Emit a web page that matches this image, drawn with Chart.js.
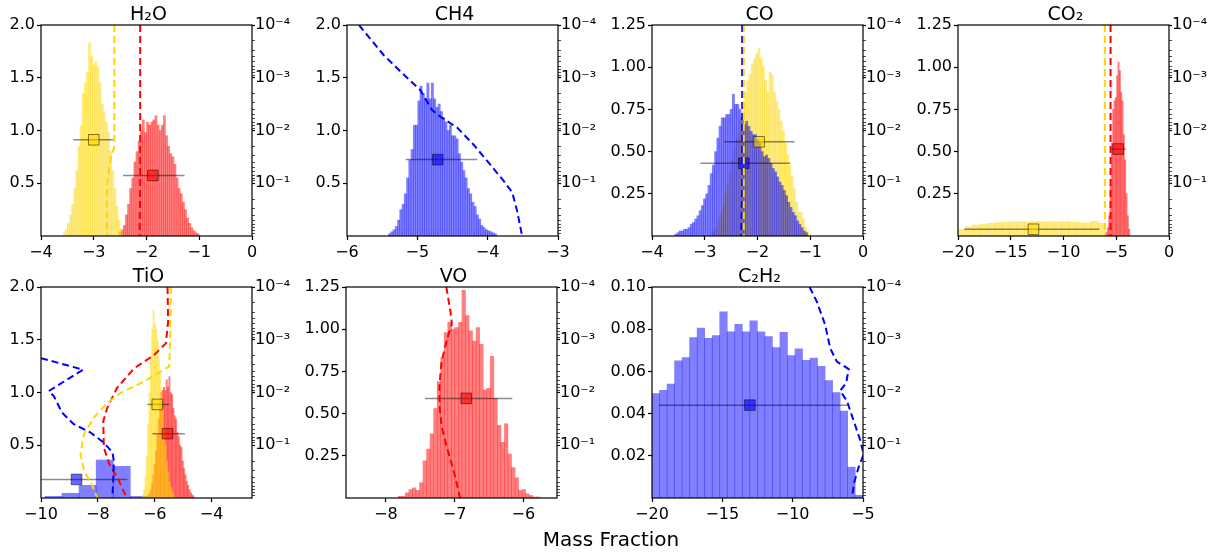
<!DOCTYPE html>
<html>
<head>
<meta charset="utf-8">
<script src="https://cdn.jsdelivr.net/npm/chart.js@4.4.1/dist/chart.umd.min.js"></script>
<style>
  body { margin: 0; background: #fff; width: 1226px; height: 552px; position: relative; overflow: hidden; font-family: "DejaVu Sans"; }
  canvas { position: absolute; }
  #xlabel { position: absolute; left: 0; width: 1222px; top: 529px; text-align: center; font-size: 20px; line-height: 1; color: #000; }
</style>
</head>
<body>
<canvas id="c0" width="303" height="269" style="left:-3px;top:-1px"></canvas>
<canvas id="c1" width="303" height="269" style="left:303px;top:-1px"></canvas>
<canvas id="c2" width="303" height="269" style="left:608px;top:-1px"></canvas>
<canvas id="c3" width="303" height="269" style="left:914px;top:-1px"></canvas>
<canvas id="c4" width="303" height="269" style="left:-3px;top:261px"></canvas>
<canvas id="c5" width="303" height="269" style="left:302px;top:261px"></canvas>
<canvas id="c6" width="303" height="269" style="left:608px;top:261px"></canvas>
<div id="xlabel">Mass Fraction</div>
<script>
// right axis (pressure), major ticks
const pressureTicks = [1e-4, 1e-3, 1e-2, 1e-1];

// fits are [median, low, high, marker level]

// H2O
const h2oXTicks = [-4, -3, -2, -1, 0];
const h2oYTicks = [0.5, 1.0, 1.5, 2.0];
const h2oYellowStart = -3.58, h2oYellowWidth = 0.04;
const h2oYellowHeights = [0.03,0.06,0.12,0.20,0.30,0.45,0.62,0.85,1.05,1.35,1.45,1.55,1.83,1.70,1.62,1.65,1.60,1.45,1.25,1.18,1.08,0.98,0.80,0.62,0.45,0.28,0.15,0.06];
const h2oRedStart = -2.52, h2oRedWidth = 0.04;
const h2oRedHeights = [0.04,0.06,0.10,0.20,0.30,0.45,0.55,0.70,0.80,0.90,1.00,1.10,0.98,1.08,1.05,1.08,1.10,1.14,1.05,1.00,1.05,1.14,0.95,0.85,0.78,0.75,0.68,0.55,0.45,0.40,0.32,0.25,0.17,0.12,0.08,0.05,0.03,0.02];
const h2oYellowProfileX = [-2.61, -2.61, -2.69, -2.74, -2.75, -2.75];
const h2oYellowProfileP = [1e-4, 2e-2, 3.8e-2, 9.1e-2, 0.22, 1.0];
const h2oRedProfileX = [-2.12, -2.12, -2.13];
const h2oRedProfileP = [1e-4, 1e-1, 1.0];
const h2oYellowFit = [-3.0, -3.39, -2.635, 0.912];
const h2oRedFit = [-1.88, -2.445, -1.277, 0.574];

// CH4
const ch4XTicks = [-6, -5, -4, -3];
const ch4YTicks = [0.5, 1.0, 1.5, 2.0];
const ch4BlueStart = -5.41, ch4BlueWidth = 0.032;
const ch4BlueHeights = [0.02,0.04,0.06,0.09,0.15,0.25,0.30,0.40,0.55,0.72,0.82,1.05,1.05,1.28,1.42,1.35,1.30,1.45,1.30,1.45,1.30,1.22,1.25,1.18,1.12,1.08,1.00,1.05,0.95,0.95,0.92,0.78,0.70,0.62,0.55,0.45,0.40,0.32,0.28,0.20,0.16,0.10,0.08,0.06,0.05,0.04,0.03,0.02];
const ch4BlueProfileX = [-5.83, -5.48, -5.24, -4.96, -4.79, -4.67, -4.43, -4.20, -3.96, -3.77, -3.65, -3.58, -3.51];
const ch4BlueProfileP = [1e-4, 3.7e-4, 7.6e-4, 1.7e-3, 4.1e-3, 5.5e-3, 8.9e-3, 1.86e-2, 4.5e-2, 9.1e-2, 0.15, 0.34, 1.0];
const ch4BlueFit = [-4.71, -5.165, -4.15, 0.724];

// CO
const coXTicks = [-4, -3, -2, -1, 0];
const coYTicks = [0.25, 0.5, 0.75, 1.0, 1.25];
const coYellowStart = -2.875, coYellowWidth = 0.042;
const coYellowHeights = [0.02,0.04,0.06,0.10,0.14,0.18,0.25,0.30,0.38,0.45,0.52,0.58,0.62,0.70,0.80,0.85,0.92,0.96,1.02,1.05,1.08,1.11,1.05,1.00,0.92,0.85,0.97,0.95,0.85,0.80,0.75,0.68,0.62,0.55,0.48,0.42,0.35,0.28,0.20,0.14,0.14,0.10,0.05,0.03,0.01];
const coBlueStart = -3.57, coBlueWidth = 0.042;
const coBlueHeights = [0.01,0.02,0.03,0.03,0.04,0.04,0.05,0.07,0.08,0.10,0.12,0.15,0.18,0.22,0.25,0.30,0.37,0.42,0.50,0.58,0.65,0.70,0.70,0.72,0.72,0.75,0.84,0.78,0.78,0.75,0.70,0.66,0.68,0.65,0.62,0.60,0.60,0.57,0.55,0.50,0.47,0.48,0.46,0.43,0.40,0.38,0.35,0.32,0.30,0.27,0.24,0.20,0.17,0.14,0.12,0.09,0.07,0.05,0.03,0.02];
const coYellowProfileX = [-2.26, -2.26];
const coYellowProfileP = [1e-4, 1.0];
const coBlueProfileX = [-2.29, -2.29, -2.31];
const coBlueProfileP = [1e-4, 1e-1, 1.0];
const coYellowFit = [-1.97, -2.64, -1.30, 0.558];
const coBlueFit = [-2.26, -3.08, -1.38, 0.431];

// CO2
const co2XTicks = [-20, -15, -10, -5, 0];
const co2YTicks = [0.25, 0.5, 0.75, 1.0, 1.25];
const co2YellowStart = -20, co2YellowWidth = 0.7;
const co2YellowHeights = [0.04,0.055,0.065,0.07,0.075,0.08,0.083,0.085,0.084,0.085,0.086,0.084,0.085,0.083,0.085,0.082,0.08,0.078,0.088,0.075];
const co2RedStart = -5.98, co2RedWidth = 0.126;
const co2RedHeights = [0.02,0.05,0.12,0.30,0.55,0.75,0.80,0.82,0.95,1.03,0.98,0.85,0.80,0.60,0.45,0.25,0.12,0.04];
const co2YellowProfileX = [-6.08, -6.08];
const co2YellowProfileP = [1e-4, 1.0];
const co2RedProfileX = [-5.54, -5.54];
const co2RedProfileP = [1e-4, 1.0];
const co2YellowFit = [-12.85, -19.4, -6.6, 0.04];
const co2RedFit = [-4.82, -5.45, -4.1, 0.515];

// TiO
const tioXTicks = [-10, -8, -6, -4];
const tioYTicks = [0.5, 1.0, 1.5, 2.0];
const tioBlueStart = -9.86, tioBlueWidth = 0.6;
const tioBlueHeights = [0.016, 0.045, 0.12, 0.36, 0.30, 0.015];
const tioRedStart = -6.26, tioRedWidth = 0.047;
const tioRedHeights = [0.02,0.04,0.08,0.14,0.22,0.32,0.45,0.6,0.75,0.9,1.0,1.02,1.05,1.02,1.12,1.05,1.15,1.0,0.98,0.85,0.78,0.75,0.62,0.58,0.5,0.48,0.35,0.28,0.22,0.16,0.12,0.08,0.05,0.03,0.02];
const tioYellowStart = -6.44, tioYellowWidth = 0.047;
const tioYellowHeights = [0.03,0.08,0.2,0.4,0.7,1.0,1.35,1.6,1.78,1.65,1.6,1.5,1.3,1.2,1.0,0.85,0.65,0.5,0.35,0.25,0.15,0.10,0.06,0.03];
const tioBlueProfileX = [-10, -8.52, -9.73, -9.55, -9.26, -8.85, -8.26, -7.79, -7.49, -7.44, -7.46, -7.49];
const tioBlueProfileP = [2.23e-3, 3.69e-3, 9.4e-3, 1.17e-2, 2.4e-2, 3.98e-2, 5.75e-2, 8.9e-2, 0.135, 0.195, 0.47, 1.0];
const tioYellowProfileX = [-5.435, -5.46, -5.49, -6.38, -7.2, -7.67, -8.14, -8.49, -8.61, -8.49, -8.2, -8.02];
const tioYellowProfileP = [1e-4, 1.08e-3, 3.2e-3, 6.2e-3, 1.02e-2, 1.58e-2, 3.0e-2, 6.2e-2, 0.148, 0.30, 0.575, 1.0];
const tioRedProfileX = [-5.55, -5.53, -5.61, -6.02, -6.73, -7.32, -7.67, -7.81, -7.79, -7.61, -7.26, -6.99];
const tioRedProfileP = [1e-4, 4.6e-4, 1.17e-3, 1.95e-3, 3.5e-3, 8.1e-3, 1.95e-2, 3.5e-2, 0.11, 0.22, 0.47, 1.0];
const tioYellowFit = [-5.91, -6.26, -5.49, 0.887];
const tioRedFit = [-5.55, -6.08, -4.94, 0.61];
const tioBlueFit = [-8.75, -10, -6.96, 0.176];

// VO
const voXTicks = [-8, -7, -6];
const voYTicks = [0.25, 0.5, 0.75, 1.0, 1.25];
const voRedStart = -7.82, voRedWidth = 0.0515;
const voRedHeights = [0.01,0.01,0.03,0.05,0.06,0.045,0.09,0.22,0.29,0.38,0.53,0.69,0.83,0.98,1.04,1.0,1.01,1.04,1.23,1.08,0.99,0.93,1.01,0.91,0.64,0.65,0.84,0.59,0.43,0.33,0.44,0.26,0.18,0.12,0.045,0.05,0.025,0.015,0.006,0.006];
const voRedProfileX = [-7.12, -7.06, -7.04, -7.12, -7.19, -7.22, -7.22, -7.19, -7.12, -7.02, -6.92];
const voRedProfileP = [1e-4, 2.95e-4, 5.0e-4, 1.1e-3, 2.6e-3, 7.4e-3, 1.78e-2, 4.3e-2, 0.102, 0.28, 1.0];
const voRedFit = [-6.83, -7.43, -6.16, 0.59];

// C2H2
const c2h2XTicks = [-20, -15, -10, -5];
const c2h2YTicks = [0.02, 0.04, 0.06, 0.08, 0.10];
const c2h2BlueStart = -20, c2h2BlueWidth = 0.535;
const c2h2BlueHeights = [0.0495,0.051,0.054,0.065,0.0665,0.076,0.0805,0.0757,0.077,0.0882,0.0787,0.0823,0.0787,0.084,0.0787,0.0765,0.0713,0.0785,0.0675,0.0707,0.0652,0.0663,0.0624,0.0556,0.050,0.0412,0.0146,0.0013];
const c2h2BlueProfileX = [-8.80, -8.28, -7.69, -7.33, -6.86, -6.02, -6.19, -6.62, -6.14, -5.67, -5.19, -4.95, -5.31, -5.62, -5.79];
const c2h2BlueProfileP = [1e-4, 1.9e-4, 5.2e-4, 1.45e-3, 2.6e-3, 3.6e-3, 6.5e-3, 9.3e-3, 1.45e-2, 3.4e-2, 8.1e-2, 0.148, 0.26, 0.5, 1.0];
const c2h2BlueFit = [-13.04, -19.5, -6.09, 0.044];

const FONT = 'DejaVu Sans';
const GOLD = '255,215,0', RED = '255,0,0', BLUE = '0,0,255';
const LEFT_W = 44, RIGHT_W = 48, BOTTOM_H = 32;

const SUP = { '-': '\u207B', '0': '\u2070', '1': '\u00B9', '2': '\u00B2', '3': '\u00B3', '4': '\u2074' };
function fmtPow(v) {
  const e = Math.round(Math.log10(v));
  return '10' + String(e).split('').map(c => SUP[c]).join('');
}
function fmtMinus(v) { return v < 0 ? '\u2212' + Math.abs(v) : String(v); }

// major + minor positions on the log axis
const pressureAll = [];
pressureTicks.forEach(m => { for (let k = 1; k <= 9; k++) pressureAll.push(k * m); });

// box round the plot area, drawn on top like matplotlib spines
Chart.register({
  id: 'frame',
  afterDatasetsDraw(chart) {
    const { ctx, chartArea: a } = chart;
    ctx.save();
    ctx.strokeStyle = '#000';
    ctx.lineWidth = 1.2;
    ctx.strokeRect(a.left, a.top, a.right - a.left, a.bottom - a.top);
    ctx.restore();
  }
});

function makePanel(id, title, xMin, xMax, yMax, xTicks, yTicks, yDigits, hists, profiles, fits) {
  const xIds = ['x', 'xb', 'xc'];
  const setX = s => { s.ticks = xTicks.map(v => ({ value: v })); };
  const datasets = [];

  // each histogram gets its own x axis so bar widths follow its own bins
  hists.forEach(([c, start, width, heights], k) => {
    datasets.push({
      type: 'bar', xAxisID: xIds[k], yAxisID: 'y', order: 10 - k,
      data: heights.map((h, i) => ({ x: start + (i + 0.5) * width, y: h })),
      backgroundColor: `rgba(${c},0.5)`, borderWidth: 0,
      barPercentage: 1, categoryPercentage: 1, grouped: false
    });
  });

  fits.forEach(([c, f]) => {
    const [med, lo, hi, lvl] = f;
    datasets.push({
      type: 'line', xAxisID: 'x', yAxisID: 'y', order: 3,
      data: [{ x: lo, y: lvl }, { x: hi, y: lvl }],
      borderColor: 'rgba(0,0,0,0.45)', borderWidth: 1.5, pointRadius: 0
    });
    datasets.push({
      type: 'line', xAxisID: 'x', yAxisID: 'y', order: 2, showLine: false,
      data: [{ x: med, y: lvl }],
      pointStyle: 'rect', pointRadius: 7.5,
      pointBackgroundColor: `rgba(${c},0.6)`, pointBorderColor: 'rgba(0,0,0,0.5)', pointBorderWidth: 1
    });
  });

  profiles.forEach(([c, xs, ps]) => {
    datasets.push({
      type: 'line', xAxisID: 'x', yAxisID: 'p', order: 1,
      data: xs.map((x, i) => ({ x: x, y: ps[i] })),
      borderColor: `rgb(${c})`, borderWidth: 2, borderDash: [7, 4],
      pointRadius: 0, fill: false, tension: 0
    });
  });

  const tickFont = { family: FONT, size: 16 };
  const scales = {};
  hists.forEach((h, k) => {
    const sc = {
      type: 'linear', position: 'bottom', min: xMin, max: xMax, offset: false,
      display: k === 0,
      afterBuildTicks: setX,
      border: { display: false },
      grid: { offset: false, drawOnChartArea: false, drawTicks: true, tickLength: 4, tickColor: '#000', tickWidth: 1.2 },
      ticks: { font: tickFont, color: '#000', padding: 3, maxRotation: 0, autoSkip: false, callback: v => fmtMinus(v) }
    };
    if (k === 0) sc.afterFit = s => { s.height = BOTTOM_H; };
    scales[xIds[k]] = sc;
  });
  scales.y = {
    type: 'linear', position: 'left', min: 0, max: yMax,
    afterBuildTicks: s => { s.ticks = yTicks.map(v => ({ value: v })); },
    afterFit: s => { s.width = LEFT_W; },
    border: { display: false },
    grid: { drawOnChartArea: false, drawTicks: true, tickLength: 4, tickColor: '#000', tickWidth: 1.2 },
    ticks: { font: tickFont, color: '#000', padding: 2, callback: v => v.toFixed(yDigits) }
  };
  scales.p = {
    axis: 'y', type: 'logarithmic', position: 'right', reverse: true, min: 1e-4, max: 1,
    afterBuildTicks: s => { s.ticks = pressureAll.map(v => ({ value: v })); },
    afterFit: s => { s.width = RIGHT_W; },
    border: { display: false },
    grid: {
      drawOnChartArea: false, drawTicks: true, tickLength: 3, tickColor: '#000',
      tickWidth: ctx => (ctx.tick && pressureTicks.includes(ctx.tick.value) ? 1.2 : 0.7)
    },
    ticks: { font: tickFont, color: '#000', padding: 0, autoSkip: false,
      callback: v => (pressureTicks.includes(v) ? fmtPow(v) : '') }
  };

  new Chart(document.getElementById(id), {
    type: 'bar',
    data: { datasets },
    options: {
      responsive: false, animation: false, devicePixelRatio: 1, events: [],
      layout: { padding: 0 },
      plugins: {
        legend: { display: false },
        tooltip: { enabled: false },
        title: {
          display: true, text: title, color: '#000',
          font: { family: FONT, size: 19, weight: 'normal', lineHeight: 1 },
          padding: { top: 7, bottom: 0 }
        }
      },
      scales
    }
  });
}

makePanel('c0', 'H\u2082O', -4, 0, 2, h2oXTicks, h2oYTicks, 1,
  [[RED, h2oRedStart, h2oRedWidth, h2oRedHeights], [GOLD, h2oYellowStart, h2oYellowWidth, h2oYellowHeights]],
  [[GOLD, h2oYellowProfileX, h2oYellowProfileP], [RED, h2oRedProfileX, h2oRedProfileP]],
  [[GOLD, h2oYellowFit], [RED, h2oRedFit]]);

makePanel('c1', 'CH4', -6, -3, 2, ch4XTicks, ch4YTicks, 1,
  [[BLUE, ch4BlueStart, ch4BlueWidth, ch4BlueHeights]],
  [[BLUE, ch4BlueProfileX, ch4BlueProfileP]],
  [[BLUE, ch4BlueFit]]);

makePanel('c2', 'CO', -4, 0, 1.25, coXTicks, coYTicks, 2,
  [[GOLD, coYellowStart, coYellowWidth, coYellowHeights], [BLUE, coBlueStart, coBlueWidth, coBlueHeights]],
  [[GOLD, coYellowProfileX, coYellowProfileP], [BLUE, coBlueProfileX, coBlueProfileP]],
  [[GOLD, coYellowFit], [BLUE, coBlueFit]]);

makePanel('c3', 'CO\u2082', -20, 0, 1.25, co2XTicks, co2YTicks, 2,
  [[GOLD, co2YellowStart, co2YellowWidth, co2YellowHeights], [RED, co2RedStart, co2RedWidth, co2RedHeights]],
  [[GOLD, co2YellowProfileX, co2YellowProfileP], [RED, co2RedProfileX, co2RedProfileP]],
  [[GOLD, co2YellowFit], [RED, co2RedFit]]);

makePanel('c4', 'TiO', -10, -2.58, 2, tioXTicks, tioYTicks, 1,
  [[BLUE, tioBlueStart, tioBlueWidth, tioBlueHeights], [RED, tioRedStart, tioRedWidth, tioRedHeights], [GOLD, tioYellowStart, tioYellowWidth, tioYellowHeights]],
  [[BLUE, tioBlueProfileX, tioBlueProfileP], [GOLD, tioYellowProfileX, tioYellowProfileP], [RED, tioRedProfileX, tioRedProfileP]],
  [[BLUE, tioBlueFit], [GOLD, tioYellowFit], [RED, tioRedFit]]);

makePanel('c5', 'VO', -8.58, -5.51, 1.25, voXTicks, voYTicks, 2,
  [[RED, voRedStart, voRedWidth, voRedHeights]],
  [[RED, voRedProfileX, voRedProfileP]],
  [[RED, voRedFit]]);

makePanel('c6', 'C\u2082H\u2082', -20, -5, 0.1, c2h2XTicks, c2h2YTicks, 2,
  [[BLUE, c2h2BlueStart, c2h2BlueWidth, c2h2BlueHeights]],
  [[BLUE, c2h2BlueProfileX, c2h2BlueProfileP]],
  [[BLUE, c2h2BlueFit]]);
</script>
</body>
</html>
